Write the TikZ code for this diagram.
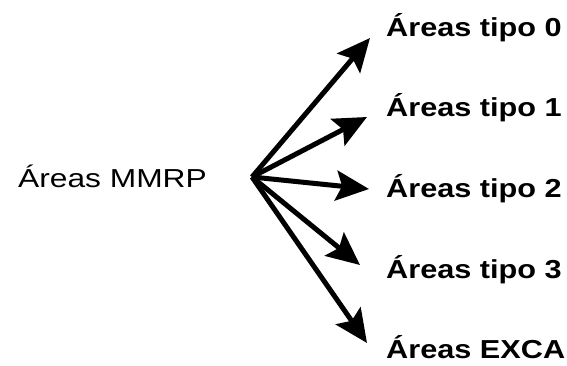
\documentclass[tikz,border=0pt]{standalone}
\usepackage{fontspec}
\setmainfont{Liberation Sans}[UprightFeatures={FakeStretch=1.22}, BoldFeatures={FakeStretch=1.18}]
\usetikzlibrary{arrows.meta}
\tikzset{
  lbl/.style={anchor=base west, inner sep=0pt, font=\fontsize{26}{31}\selectfont},
  rlbl/.style={lbl, font=\fontsize{26}{31}\selectfont\bfseries},
  arr/.style={line width=5pt, -{Stealth[length=33pt, width=30pt, inset=6pt]}}
}
\begin{document}
\begin{tikzpicture}[x=1pt, y=-1pt]
\useasboundingbox (0,0) rectangle (567,366);
\node[lbl] (src) at (18,187) {Áreas MMRP};
\node[rlbl] (t0) at (386,37) {Áreas tipo 0};
\node[rlbl] (t1) at (386,117) {Áreas tipo 1};
\node[rlbl] (t2) at (386,197) {Áreas tipo 2};
\node[rlbl] (t3) at (386,278) {Áreas tipo 3};
\node[rlbl] (t4) at (386,358) {Áreas EXCA};
\coordinate (o) at (252,177);
\coordinate (e0) at (370,38);
\coordinate (e1) at (367,117);
\coordinate (e2) at (369,189);
\coordinate (e3) at (360,265);
\coordinate (e4) at (367,343);
\foreach \e in {e0,e1,e2,e3,e4} \draw[arr] (o) -- (\e);
\end{tikzpicture}
\end{document}
